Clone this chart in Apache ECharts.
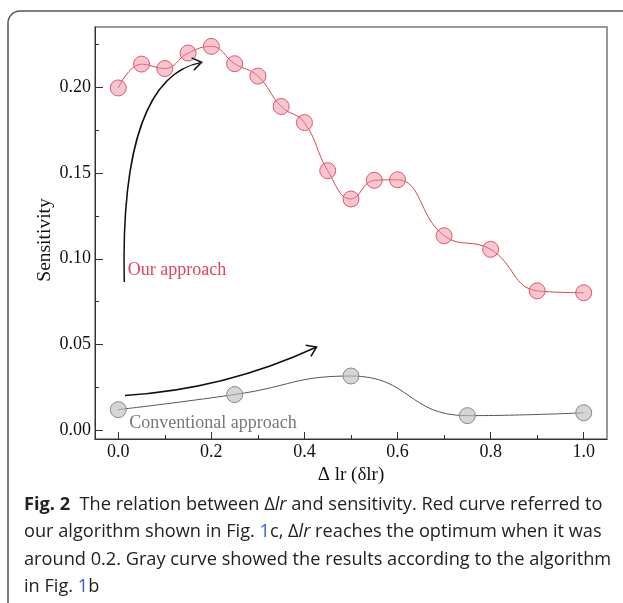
<!DOCTYPE html>
<html><head><meta charset="utf-8">
<script src="https://cdn.jsdelivr.net/npm/echarts@6/dist/echarts.min.js"></script>
<style>html,body{margin:0;padding:0;background:#fff}#c{width:623px;height:603px}</style>
</head><body><div id="c"></div>
<script>
// ---- data ----
const ourX  = [0, 0.05, 0.1, 0.15, 0.2, 0.25, 0.3, 0.35, 0.4, 0.45, 0.5, 0.55, 0.6, 0.7, 0.8, 0.9, 1.0];
const ourY  = [0.1995, 0.2134, 0.2108, 0.2198, 0.2237, 0.2136, 0.2064, 0.1887, 0.1793, 0.1513, 0.1348, 0.1457, 0.1460, 0.1134, 0.1055, 0.0813, 0.0802];
const convX = [0, 0.25, 0.5, 0.75, 1.0];
const convY = [0.0121, 0.0209, 0.0317, 0.0086, 0.0103];
const xMajor = [0, 0.2, 0.4, 0.6, 0.8, 1.0];
const xMinor = [0.1, 0.3, 0.5, 0.7, 0.9];
const yMajor = [0, 0.05, 0.1, 0.15, 0.2];
const yMinor = [0.025, 0.075, 0.125, 0.175, 0.225];
// annotation arrows (data units): start, control(s), tip
const arrowUp  = [[0.0129, 0.0865], [0.0058, 0.1692], [0.0681, 0.2089], [0.1791, 0.2144]];
const arrowLow = [[0.0144, 0.0204], [0.2291, 0.0239], [0.426, 0.0486]];
// text anchors (data units): left edge, vertical middle
const ourLabelAt  = [0.0204, 0.0934];
const convLabelAt = [0.0236, 0.0041];

const SERIF = '"Liberation Serif","DejaVu Serif",serif';
const chart = echarts.init(document.getElementById('c'), null, {renderer: 'canvas'});

const baseAxis = {type: 'value', splitLine: {show: false}};
chart.setOption({
  animation: false,
  grid: {left: 95, right: 16, top: 27, bottom: 164, show: true, borderColor: '#7a7a7a', borderWidth: 1.5},
  xAxis: [
    Object.assign({}, baseAxis, {
      min: -0.05, max: 1.05, position: 'bottom',
      axisLine: {show: true, onZero: false, lineStyle: {color: '#333', width: 1}},
      axisTick: {show: true, inside: true, length: 7, customValues: xMajor, lineStyle: {color: '#333'}},
      axisLabel: {customValues: xMajor, formatter: v => v.toFixed(1), fontFamily: SERIF, fontSize: 18, color: '#111', margin: 4},
      name: 'Δ lr (δlr)', nameLocation: 'middle', nameGap: 25,
      nameTextStyle: {fontFamily: SERIF, fontSize: 19, color: '#111'}
    }),
    Object.assign({}, baseAxis, {
      min: -0.05, max: 1.05, position: 'bottom', offset: 0,
      axisLine: {show: false, onZero: false},
      axisTick: {show: true, inside: true, length: 4, customValues: xMinor, lineStyle: {color: '#333'}},
      axisLabel: {show: false}
    })
  ],
  yAxis: [
    Object.assign({}, baseAxis, {
      min: -0.005, max: 0.235, position: 'left',
      axisLine: {show: true, onZero: false, lineStyle: {color: '#333', width: 1}},
      axisTick: {show: true, inside: true, length: 8, customValues: yMajor, lineStyle: {color: '#333'}},
      axisLabel: {customValues: yMajor, formatter: v => v.toFixed(2), fontFamily: SERIF, fontSize: 18, color: '#111', margin: 4},
      name: 'Sensitivity', nameLocation: 'middle', nameGap: 40, nameRotate: 90, nameMoveOverlap: false,
      nameTextStyle: {fontFamily: SERIF, fontSize: 19.5, color: '#111', padding: [0, 14, 0, 0]}
    }),
    Object.assign({}, baseAxis, {
      min: -0.005, max: 0.235, position: 'left', offset: 0,
      axisLine: {show: false, onZero: false},
      axisTick: {show: true, inside: true, length: 4, customValues: yMinor, lineStyle: {color: '#333'}},
      axisLabel: {show: false}
    })
  ],
  series: [
    {
      type: 'line', xAxisIndex: 0, yAxisIndex: 0,
      data: ourX.map((x, i) => [x, ourY[i]]),
      smooth: 0.45, symbol: 'circle', symbolSize: 16,
      lineStyle: {color: '#e0404f', width: 1},
      itemStyle: {color: 'rgba(238,140,158,0.5)', borderColor: '#e0566c', borderWidth: 1}
    },
    {
      type: 'line', xAxisIndex: 0, yAxisIndex: 0,
      data: convX.map((x, i) => [x, convY[i]]),
      smooth: 0.5, symbol: 'circle', symbolSize: 16,
      lineStyle: {color: '#555', width: 1},
      itemStyle: {color: 'rgba(190,190,190,0.65)', borderColor: '#888', borderWidth: 1}
    }
  ]
});

function px(p) { return chart.convertToPixel({xAxisIndex: 0, yAxisIndex: 0}, p); }
function head(tip, from, len, ang) {
  const dx = tip[0] - from[0], dy = tip[1] - from[1];
  const d = Math.hypot(dx, dy), ux = dx / d, uy = dy / d;
  const r = (a) => [tip[0] - len * (ux * Math.cos(a) - uy * Math.sin(a)), tip[1] - len * (uy * Math.cos(a) + ux * Math.sin(a))];
  return [r(ang), tip, r(-ang)];
}
const u = arrowUp.map(px), l = arrowLow.map(px);
const ourPx = px(ourLabelAt), convPx = px(convLabelAt);

const cap = {fontFamily: '"Open Sans","Noto Sans",sans-serif', fontSize: 18.2, lineHeight: 27.5, fill: '#222'};
const capRich = {
  n: cap,
  b: Object.assign({}, cap, {fontWeight: 'bold'}),
  i: Object.assign({}, cap, {fontStyle: 'italic'}),
  bl: Object.assign({}, cap, {fill: '#3b5bd6'})
};
const capText = [
  '{b|Fig. 2}{n|  The relation between Δ}{i|lr}{n| and sensitivity. Red curve referred to}',
  '{n|our algorithm shown in Fig. }{bl|1}{n|c, Δ}{i|lr}{n| reaches the optimum when it was}',
  '{n|around 0.2. Gray curve showed the results according to the algorithm}',
  '{n|in Fig. }{bl|1}{n|b}'
].join('\n');

chart.setOption({
  graphic: [
    {type: 'rect', silent: true, shape: {x: 8, y: 11, width: 700, height: 620, r: 12},
     style: {fill: 'none', stroke: '#555', lineWidth: 1.5}, z: 100},
    {type: 'bezierCurve', silent: true,
     shape: {x1: u[0][0], y1: u[0][1], cpx1: u[1][0], cpy1: u[1][1], cpx2: u[2][0], cpy2: u[2][1], x2: u[3][0], y2: u[3][1]},
     style: {stroke: '#111', lineWidth: 1.5, fill: null}, z: 100},
    {type: 'polyline', silent: true, shape: {points: head(u[3], u[2], 11, 0.6)},
     style: {stroke: '#111', lineWidth: 1.5, fill: null}, z: 100},
    {type: 'bezierCurve', silent: true,
     shape: {x1: l[0][0], y1: l[0][1], cpx1: l[1][0], cpy1: l[1][1], x2: l[2][0], y2: l[2][1]},
     style: {stroke: '#111', lineWidth: 1.5, fill: null}, z: 100},
    {type: 'polyline', silent: true, shape: {points: head(l[2], l[1], 11, 0.6)},
     style: {stroke: '#111', lineWidth: 1.5, fill: null}, z: 100},
    {type: 'text', silent: true, x: ourPx[0], y: ourPx[1],
     style: {text: 'Our approach', fontFamily: SERIF, fontSize: 18, fill: '#e0455a', verticalAlign: 'middle', align: 'left'}, z: 100},
    {type: 'text', silent: true, x: convPx[0], y: convPx[1],
     style: {text: 'Conventional approach', fontFamily: SERIF, fontSize: 18, fill: '#777', verticalAlign: 'middle', align: 'left'}, z: 100},
    {type: 'text', silent: true, x: 24, y: 491,
     style: {text: capText, rich: capRich, fontFamily: cap.fontFamily, fontSize: cap.fontSize, lineHeight: 27.5, fill: '#222'}, z: 100}
  ]
});
</script>
</body></html>
